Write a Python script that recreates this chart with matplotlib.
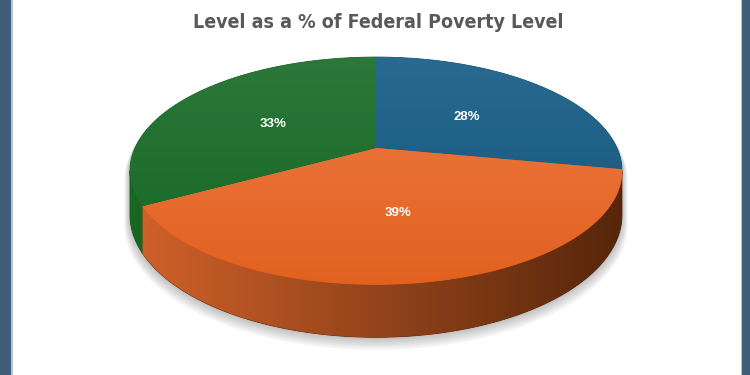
import numpy as np
import matplotlib.pyplot as plt
from matplotlib import font_manager
from matplotlib.patches import Polygon, Rectangle
from matplotlib.colors import to_rgb

# Data
shares = [28, 39, 33]
labels = ['28%', '39%', '33%']
title = 'Level as a % of Federal Poverty Level'

# colours: (light, dark) for top faces and for side walls
top_colors = [('#2b6a90', '#0f5379'), ('#ee7c47', '#e2611f'), ('#2c783a', '#146623')]
side_colors = [('#0d4466', '#082f48'), ('#d2622a', '#56260b'), ('#1a6623', '#0f4d17')]

# 3D pie geometry in pixel units (perspective circle)
cx, k, a, b, c = 376.0, 241.0, -79.5, 148.0, 0.2
depth = 42.3


def proj(t, drop=0.0):
    u = np.cos(t)
    v = np.sin(t)
    den = 1 + c * v
    return cx + k * u / den, (a * v + b + drop) / den


def arc(t0, t1, drop=0.0, n=300):
    t = np.radians(np.linspace(t0, t1, n))
    x, y = proj(t, drop)
    return np.column_stack([x, y])


def grad_fill(ax, verts, c0, c1, extent, horizontal, z):
    poly = Polygon(verts, closed=True, facecolor=c1, edgecolor=c1, lw=0.6, zorder=z)
    ax.add_patch(poly)
    s = np.linspace(0, 1, 256)[:, None]
    col = np.array(to_rgb(c0))[None, :] * (1 - s) + np.array(to_rgb(c1))[None, :] * s
    img = col[None, :, :] if horizontal else col[:, None, :]
    im = ax.imshow(img, extent=extent, aspect='auto', interpolation='bilinear', zorder=z + 0.1)
    im.set_clip_path(poly)


# narrow font for the title if one is installed
names = {f.name for f in font_manager.fontManager.ttflist}
narrow = [f for f in font_manager.fontManager.ttflist
          if f.name == 'DejaVu Sans' and 'ondensed' in str(f.stretch) + f.fname]
if 'Liberation Sans Narrow' in names:
    title_font = dict(family='Liberation Sans Narrow', fontsize=15.5)
elif narrow:
    title_font = dict(family='DejaVu Sans', stretch='condensed', fontsize=14)
else:
    title_font = dict(family='Liberation Sans', fontsize=13.5)

fig = plt.figure(figsize=(7.5, 3.75), dpi=100)
ax = fig.add_axes([0, 0, 1, 1])

# slice boundaries, clockwise from 12 o'clock
bounds = 90 - 3.6 * np.concatenate([[0], np.cumsum(shares)])
lo = -180 + np.degrees(np.arcsin(c))
hi = -np.degrees(np.arcsin(c))

# soft shadow under the pie
sil = np.vstack([arc(hi, 360 + lo), arc(lo, hi, depth)])
for i in range(9):
    sc = 1 + 0.003 * i
    pts = np.column_stack([cx + (sil[:, 0] - cx) * sc, 200 + (sil[:, 1] - 200) * sc + 1.2 * i])
    ax.add_patch(Polygon(pts, closed=True, facecolor='#000000', edgecolor='none', alpha=0.03, zorder=1))

top_ext = (130, 623, 285, 57)
wall_ext = (130, 623, 345, 170)

for i in range(len(shares)):
    t0, t1 = bounds[i], bounds[i + 1]
    # side wall (only the visible front part)
    w0, w1 = max(t1, lo), min(t0, hi)
    if w1 > w0:
        wall = np.vstack([arc(w0, w1), arc(w1, w0, depth)])
        grad_fill(ax, wall, side_colors[i][0], side_colors[i][1], wall_ext, True, 2)

for i in range(len(shares)):
    t0, t1 = bounds[i], bounds[i + 1]
    face = np.vstack([[cx, b], arc(t0, t1)])
    grad_fill(ax, face, top_colors[i][0], top_colors[i][1], top_ext, False, 4)
    tm = np.radians((t0 + t1) / 2)
    u, v = 0.52 * np.cos(tm), 0.52 * np.sin(tm)
    den = 1 + c * v
    ax.text(cx + k * u / den, (a * v + b) / den + 3, labels[i], color='white', fontsize=9.5,
            fontweight='bold', family=['Liberation Sans', 'DejaVu Sans'],
            ha='center', va='center', zorder=6)

# frame bars on the sides
ax.add_patch(Rectangle((0, 0), 11, 375, facecolor='#3f5f79', edgecolor='none', zorder=7))
ax.add_patch(Rectangle((11, 0), 1.5, 375, facecolor='#b9c5cf', edgecolor='none', zorder=7))
ax.add_patch(Rectangle((742, 0), 8, 375, facecolor='#3f5f79', edgecolor='none', zorder=7))
ax.add_patch(Rectangle((740.5, 0), 1.5, 375, facecolor='#b9c5cf', edgecolor='none', zorder=7))

ax.text(378, 23, title, color='#595959', fontweight='bold', ha='center', va='center',
        zorder=8, **title_font)

ax.set_xlim(0, 750)
ax.set_ylim(375, 0)
ax.axis('off')

fig.savefig('out.png', dpi=100, facecolor='white')
